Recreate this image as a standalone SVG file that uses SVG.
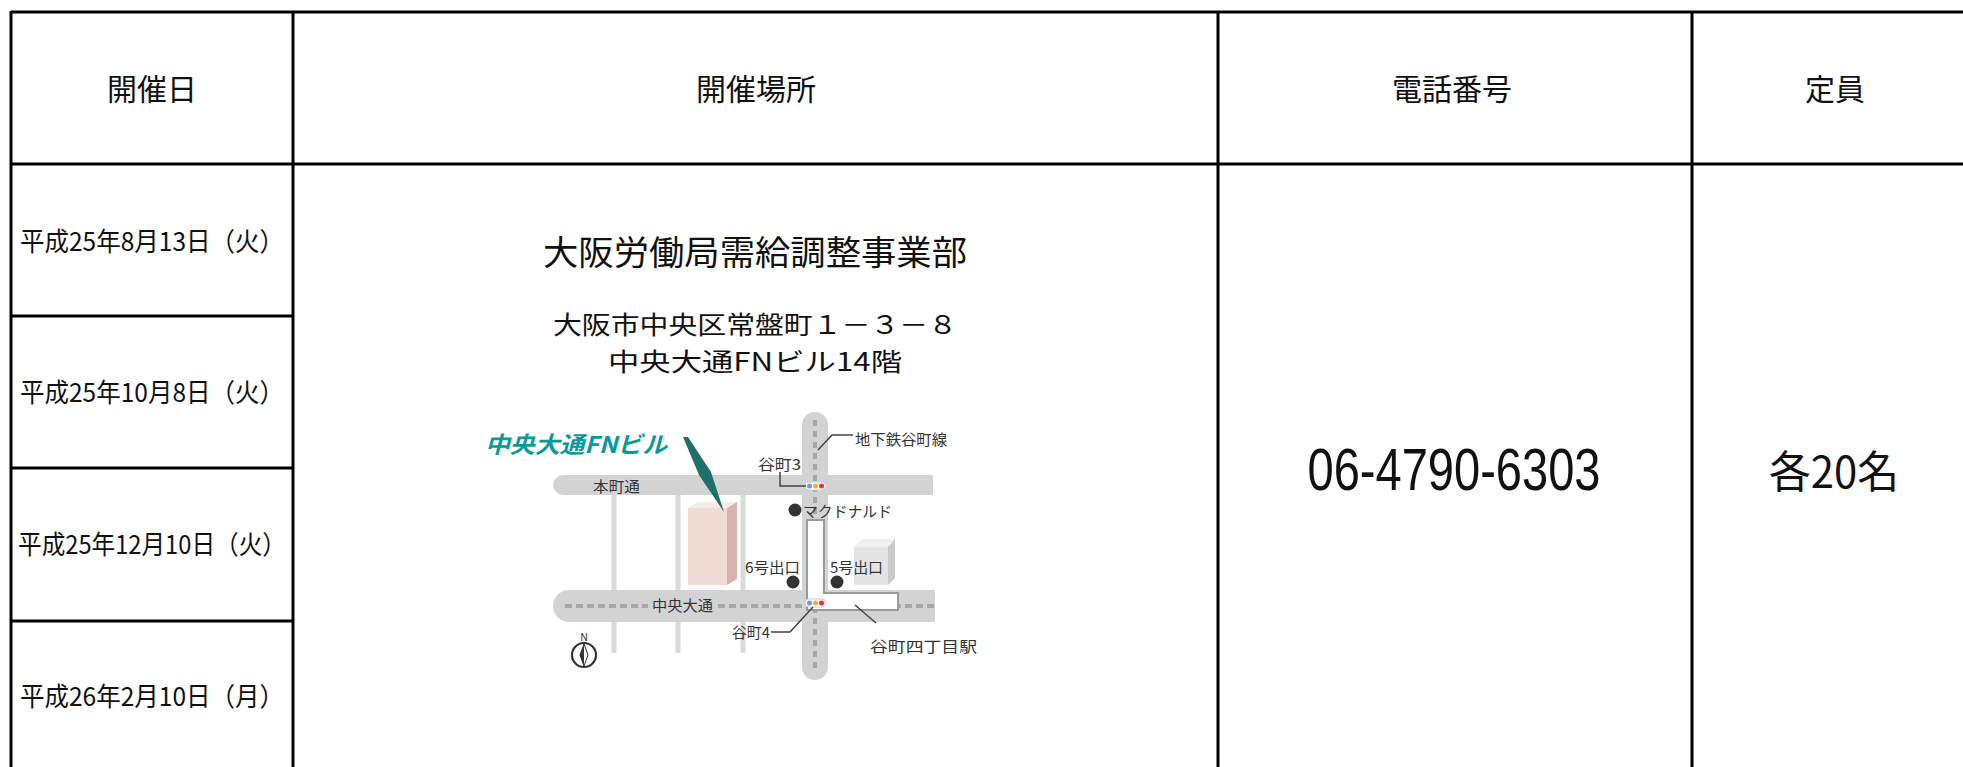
<svg xmlns="http://www.w3.org/2000/svg" width="1963" height="767" viewBox="0 0 1963 767">
<style>
.t{font-family:"Noto Sans CJK JP","Liberation Sans",sans-serif;fill:#111}
.hd{font-size:30px;text-anchor:middle}
.dt{font-size:26px;text-anchor:middle}
.grid{stroke:#000;stroke-width:3;fill:none}
.road{fill:#d3d3d3}
.thin{stroke:#dadada;stroke-width:5}
.dash{stroke:#a7a7a7;stroke-width:4;fill:none}
.ml{font-family:"Noto Sans CJK JP","Liberation Sans",sans-serif;fill:#333;font-size:15px}
.lead{stroke:#444;stroke-width:1.5;fill:none}
.dot{fill:#333}
</style>
<rect x="0" y="0" width="1963" height="767" fill="#fff"/>
<g id="table" class="grid">
<line x1="11" y1="12" x2="1963" y2="12"/>
<line x1="11" y1="164" x2="1963" y2="164"/>
<line x1="11" y1="11" x2="11" y2="767"/>
<line x1="293" y1="12" x2="293" y2="767"/>
<line x1="1218" y1="12" x2="1218" y2="767"/>
<line x1="1692" y1="12" x2="1692" y2="767"/>
<line x1="11" y1="316" x2="293" y2="316"/>
<line x1="11" y1="468" x2="293" y2="468"/>
<line x1="11" y1="621" x2="293" y2="621"/>
</g>
<g id="headers">
<text class="t hd" x="152" y="100">開催日</text>
<text class="t hd" x="756" y="100">開催場所</text>
<text class="t hd" x="1452" y="100">電話番号</text>
<text class="t hd" x="1835" y="100">定員</text>
</g>
<g id="dates">
<text class="t dt" x="152" y="251" textLength="264" lengthAdjust="spacingAndGlyphs">平成25年8月13日（火）</text>
<text class="t dt" x="152" y="402" textLength="264" lengthAdjust="spacingAndGlyphs">平成25年10月8日（火）</text>
<text class="t dt" x="152" y="554" textLength="268" lengthAdjust="spacingAndGlyphs">平成25年12月10日（火）</text>
<text class="t dt" x="152" y="706" textLength="264" lengthAdjust="spacingAndGlyphs">平成26年2月10日（月）</text>
</g>
<g id="place">
<text class="t" x="755" y="265" font-size="34" text-anchor="middle" textLength="424" lengthAdjust="spacingAndGlyphs">大阪労働局需給調整事業部</text>
<text class="t" x="755" y="334" font-size="25" text-anchor="middle" textLength="404" lengthAdjust="spacingAndGlyphs">大阪市中央区常盤町１－３－８</text>
<text class="t" x="755" y="371" font-size="25" text-anchor="middle" textLength="294" lengthAdjust="spacingAndGlyphs">中央大通FNビル14階</text>
</g>
<g id="map">
<line class="thin" x1="614" y1="495" x2="614" y2="653"/>
<line class="thin" x1="678" y1="495" x2="678" y2="653"/>
<line class="thin" x1="743" y1="495" x2="743" y2="653"/>
<path class="road" d="M563,475 H933 V495 H563 A10,10 0 0 1 563,475 Z"/>
<path class="road" d="M569,590 H935 V622 H569 A16,16 0 0 1 569,590 Z"/>
<rect class="road" x="802" y="412" width="26" height="268" rx="13"/>
<line class="dash" x1="565" y1="606" x2="648" y2="606" stroke-dasharray="7 4"/>
<line class="dash" x1="718" y1="606" x2="935" y2="606" stroke-dasharray="7 4"/>
<line class="dash" x1="815" y1="420" x2="815" y2="672" stroke-dasharray="6 5"/>
<polygon points="807,520 824,520 824,593 898,593 898,610 807,610" fill="#fff" stroke="#9a9a9a" stroke-width="2"/>
<g id="building">
<rect x="688" y="508" width="39" height="77" fill="#efdcd5"/>
<polygon points="688,508 698,502 737,502 727,508" fill="#f6ebe7"/>
<polygon points="727,508 737,502 737,579 727,585" fill="#d8b3ae"/>
</g>
<g id="cube">
<rect x="854" y="547" width="34" height="38" fill="#e4e4e4"/>
<polygon points="854,547 862,539 895,539 888,547" fill="#f0f0f0"/>
<polygon points="888,547 895,539 895,578 888,585" fill="#c9c9c9"/>
</g>
<g id="signal3">
<rect x="805" y="482" width="21" height="8" rx="4" fill="#fff" stroke="#ccc"/>
<circle cx="809.5" cy="486" r="2.5" fill="#6b9be0"/>
<circle cx="815.5" cy="486" r="2.5" fill="#f0b030"/>
<circle cx="821.5" cy="486" r="2.5" fill="#e8304a"/>
</g>
<g id="signal4">
<rect x="805" y="599" width="21" height="8" rx="4" fill="#fff" stroke="#ccc"/>
<circle cx="809.5" cy="603" r="2.5" fill="#6b9be0"/>
<circle cx="815.5" cy="603" r="2.5" fill="#f0b030"/>
<circle cx="821.5" cy="603" r="2.5" fill="#e8304a"/>
</g>
<circle class="dot" cx="795" cy="510" r="6.5"/>
<circle class="dot" cx="793" cy="582" r="6.5"/>
<circle class="dot" cx="837" cy="582" r="6.5"/>
<text class="ml" x="593" y="492" font-size="16" textLength="47" lengthAdjust="spacingAndGlyphs">本町通</text>
<text class="ml" x="652" y="611" font-size="16" textLength="61" lengthAdjust="spacingAndGlyphs">中央大通</text>
<text class="ml" x="758" y="470" textLength="43" lengthAdjust="spacingAndGlyphs">谷町3</text>
<text class="ml" x="855" y="445" textLength="92" lengthAdjust="spacingAndGlyphs">地下鉄谷町線</text>
<text class="ml" x="803" y="517" textLength="89" lengthAdjust="spacingAndGlyphs">マクドナルド</text>
<text class="ml" x="745" y="573" textLength="55" lengthAdjust="spacingAndGlyphs">6号出口</text>
<text class="ml" x="830" y="573" textLength="53" lengthAdjust="spacingAndGlyphs">5号出口</text>
<text class="ml" x="732" y="638" textLength="38" lengthAdjust="spacingAndGlyphs">谷町4</text>
<text class="ml" x="870" y="652" font-size="17" textLength="107" lengthAdjust="spacingAndGlyphs">谷町四丁目駅</text>
<g id="leaders">
<polyline class="lead" points="818,450 832,435 853,435"/>
<polyline class="lead" points="780,472 780,486 806,486"/>
<polyline class="lead" points="771,632 790,632 813,607"/>
<polyline class="lead" points="855,605 876,623"/>
</g>
<g id="callout">
<polygon points="683,437 688,437 711,472 724,512 699,475" fill="#1f6f6a"/>
<text x="485" y="453" font-family="'Noto Sans CJK JP','Liberation Sans',sans-serif" font-size="23" font-weight="bold" font-style="italic" fill="#0a9a9a" textLength="182" lengthAdjust="spacingAndGlyphs">中央大通FNビル</text>
</g>
<g id="compass">
<text x="584" y="641" font-family="'Liberation Sans',sans-serif" font-size="10" text-anchor="middle" fill="#333">N</text>
<circle cx="584" cy="655" r="12" fill="#fff" stroke="#333" stroke-width="2.2"/>
<polygon points="584,644 588,655 584,666 580,655" fill="#fff" stroke="#333" stroke-width="1"/>
<polygon points="584,644 584,666 580,655" fill="#333"/>
</g>
</g>
<g id="phone">
<text x="1454" y="490" font-family="'Liberation Sans',sans-serif" font-size="60" text-anchor="middle" fill="#111" textLength="293" lengthAdjust="spacingAndGlyphs">06-4790-6303</text>
</g>
<g id="capacity">
<text class="t" x="1834" y="488" font-size="44" text-anchor="middle" textLength="130" lengthAdjust="spacingAndGlyphs">各20名</text>
</g>
</svg>
